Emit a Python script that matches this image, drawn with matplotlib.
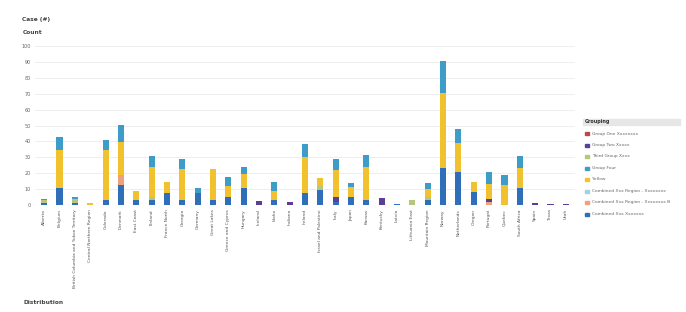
import matplotlib
matplotlib.use("Agg")
import matplotlib.pyplot as plt
import numpy as np

plt.rcParams['font.family'] = ['DejaVu Sans']

categories = [
    "Alberta", "Belgium", "British Columbia and Yukon Territory", "Central Northern Region",
    "Colorado", "Denmark", "East Coast", "Finland", "France North", "Georgia",
    "Germany", "Great Lakes", "Greece and Cyprus", "Hungary", "Iceland",
    "Idaho", "Indiana", "Ireland", "Israel and Palestine", "Italy", "Japan",
    "Kansas", "Kentucky", "Latvia", "Lithuania East", "Mountain Region",
    "Norway", "Netherlands", "Oregon", "Portugal", "Quebec", "South Africa",
    "Spain", "Texas", "Utah",
]

series_names = [
    "Group One Xxxxxxxx", "Group Two Xxxxx", "Third Group Xxxx",
    "Group Four", "Yellow", "Combined Xxx Region - Xxxxxxxx",
    "Combined Xxx Region - Xxxxxxxx B", "Combined Xxx Xxxxxxx",
]
series_colors = ["#B94A48", "#5B3F96", "#B5C77A", "#3E9CC8", "#F2C12E",
                 "#9FD3E3", "#F0A07A", "#2F6FBA"]

# values per series (index aligns with series_names)
s_red    = [0, 0, 0, 0, 0, 0, 0, 0, 0, 0, 0, 0, 0, 0, 0, 0, 0, 0, 0, 0, 0, 0, 0, 0, 0, 0, 0, 0, 0, 0, 0, 0, 0, 0, 0]
s_purple = [0, 0, 0, 0, 0, 0, 0, 0, 0, 0, 0, 0, 0, 0, 2.7, 0, 2, 0, 0, 3, 0, 0, 4.2, 0, 0, 0, 0, 0, 0, 2, 0, 0, 1, 0.5, 0.5]
s_green  = [2, 0, 3, 0, 0, 0, 0, 2, 0, 0, 0, 0, 0, 0, 0, 0, 0, 0, 2.7, 0, 0, 0, 0, 0, 3, 2, 0, 0, 0, 0, 0, 0, 0, 0, 0]
s_teal   = [1, 8, 1, 0, 6.3, 11, 0, 7, 0, 6.3, 3, 0, 5.5, 4.6, 0, 5.7, 0, 8.2, 0, 7.3, 2.8, 7.3, 0, 0, 0, 3.3, 20.6, 8.8, 0, 7.3, 6.3, 7.7, 0, 0, 0]
s_yellow = [0, 24, 0, 1, 31.5, 21, 6, 19, 7.3, 19.4, 0, 19.6, 6.7, 8.4, 0, 6, 0, 22.3, 4.6, 16.8, 6, 21, 0, 0, 0, 5.3, 47.2, 17.8, 5.8, 9.5, 12.6, 12.6, 0, 0, 0]
s_cyan   = [0, 0, 0, 0, 0, 0, 0, 0, 0, 0, 0, 0, 0, 0, 0, 0, 0, 0, 0, 0, 0, 0, 0, 0, 0, 0, 0, 0, 0, 0, 0, 0, 0, 0, 0]
s_salmon = [0, 0, 0, 0, 0, 6, 0, 0, 0, 0, 0, 0, 0, 0, 0, 0, 0, 0, 0, 0, 0, 0, 0, 0, 0, 0, 0, 0, 0, 1.8, 0, 0, 0, 0, 0]
s_blue   = [1, 10.5, 1, 0, 3, 12.6, 3, 3, 7.4, 3, 7.4, 3, 5.2, 11, 0, 3, 0, 7.7, 9.4, 2, 5.2, 3.1, 0, 0.6, 0, 3, 23, 21, 8.4, 0, 0, 10.5, 0, 0, 0]

yticks = [0, 10, 20, 30, 40, 50, 60, 70, 80, 90, 100]

series_values = [s_red, s_purple, s_green, s_teal, s_yellow, s_cyan, s_salmon, s_blue]
stack_order = [7, 6, 1, 2, 4, 5, 3, 0]  # bottom to top

fig = plt.figure(figsize=(6.86, 3.12), dpi=100)
ax = fig.add_axes([35/686, 1-205/312, 540/686, (205-46)/312])

x = np.arange(len(categories))
bottom = np.zeros(len(categories))
for si in stack_order:
    vals = np.array(series_values[si], dtype=float)
    ax.bar(x, vals, bottom=bottom, width=0.4, color=series_colors[si], linewidth=0)
    bottom += vals

ax.set_xlim(-0.6, len(categories) - 0.4)
ax.set_ylim(0, 100)
ax.set_yticks(yticks)
ax.set_yticklabels([str(v) for v in yticks], fontsize=3.5, color="#666666")
ax.set_xticks(x)
ax.set_xticklabels(categories, rotation=90, fontsize=3.2, color="#555555")
ax.tick_params(length=0, pad=3)
ax.grid(axis="y", color="#EBEBEB", linewidth=0.6)
ax.set_axisbelow(True)
for s in ax.spines.values():
    s.set_visible(False)

fig.text(22/686, 1-20/312, "Case (#)", fontsize=4.2, color="#444444", va="center", fontweight="bold")
fig.text(23/686, 1-33/312, "Count", fontsize=4.2, color="#444444", va="center", fontweight="bold")
fig.text(23/686, 1-302/312, "Distribution", fontsize=4.2, color="#444444", va="center", fontweight="bold")

# legend
leg_x = 585/686
fig.patches.append(plt.Rectangle((583/686, 1-125/312), 97/686, 6/312,
                                 transform=fig.transFigure, color="#E6E6E6", zorder=0))
fig.text(585/686, 1-122/312, "Grouping", fontsize=3.5, color="#333333", va="center", fontweight="bold")
for i, (name, col) in enumerate(zip(series_names, series_colors)):
    yy = 1 - (133.5 + i * 11.5) / 312
    fig.patches.append(plt.Rectangle((leg_x, yy - 1.5/312), 4/686, 3/312,
                                     transform=fig.transFigure, color=col))
    fig.text(leg_x + 7/686, yy, name, fontsize=3.2, color="#666666", va="center")

fig.savefig("out.png", dpi=100)
